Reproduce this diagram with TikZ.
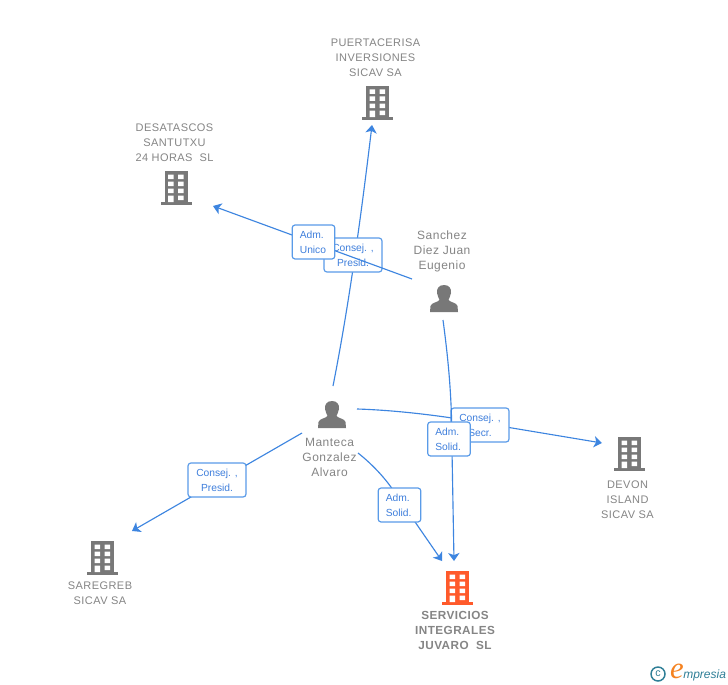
\documentclass[tikz,border=0pt]{standalone}
\usepackage{fontspec}
\setmainfont{Liberation Sans}[LetterSpace=4]
\newfontfamily\plainf{Liberation Sans}
\newfontfamily\logoserif{Liberation Serif}
\usetikzlibrary{arrows.meta}
\definecolor{linkblue}{HTML}{3D85E0}
\definecolor{boxblue}{HTML}{5A9BE8}
\definecolor{labelblue}{HTML}{3F7FDC}
\definecolor{txtgrey}{HTML}{858585}
\definecolor{icongrey}{HTML}{787878}
\definecolor{hotorange}{HTML}{FF5A2B}
\definecolor{logoteal}{HTML}{2F7F97}
\definecolor{logoorange}{HTML}{F58220}
\tikzset{
  x=0.75pt,y=-0.75pt,
  name text/.style={text=txtgrey,font=\fontsize{8.25pt}{11.25pt}\selectfont,align=center,inner sep=0pt},
  person text/.style={name text,font=\fontsize{9pt}{11.25pt}\selectfont},
  hot text/.style={name text,font=\bfseries\fontsize{8.8pt}{11.25pt}\selectfont},
  role/.style={draw=boxblue,line width=0.9pt,rounded corners=2.2pt,fill=white,text=labelblue,
     font=\plainf\fontsize{7.7pt}{11.25pt}\selectfont,align=center,inner sep=0pt,
     minimum width=43.5pt,minimum height=25.5pt},
  rolesmall/.style={role,align=left,minimum width=32pt,text width=20.5pt},
  link/.style={draw=linkblue,line width=0.85pt},
  linkarrow/.style={link,-{Stealth[length=6pt,width=8.5pt,inset=1.6pt]}},
}
% building icon: #1 = centre x, #2 = top y, #3 = colour
\newcommand{\buildingicon}[3]{%
  \begin{scope}[shift={(#1,#2)}]
    \fill[#3] (-11.5,0) rectangle (11.5,31);
    \fill[#3] (-15.5,31) rectangle (15.5,34);
    \fill[white] (-8,3.5) rectangle (-2.5,8) (2,3.5) rectangle (7.5,8);
    \fill[white] (-8,10.5) rectangle (-2.5,15) (2,10.5) rectangle (7.5,15);
    \fill[white] (-8,17.5) rectangle (-2.5,22) (2,17.5) rectangle (7.5,22);
    \fill[white] (-8,24.5) rectangle (-2.5,31) (2,24.5) rectangle (7.5,29);
  \end{scope}}
% person icon: #1 = centre x, #2 = top y
\newcommand{\personicon}[2]{%
  \begin{scope}[shift={(#1,#2)}]
    \fill[icongrey] (0,0) .. controls (-5.5,0) and (-7.5,4) .. (-7,8)
      .. controls (-6.7,11) and (-5,13) .. (-4.5,15)
      .. controls (-6.5,17.5) and (-12.5,17.5) .. (-13.5,21)
      -- (-14,27) -- (14,27) -- (13.5,21)
      .. controls (12.5,17.5) and (6.5,17.5) .. (4.5,15)
      .. controls (5,13) and (6.7,11) .. (7,8)
      .. controls (7.5,4) and (5.5,0) .. (0,0) -- cycle;
  \end{scope}}
\begin{document}
\begin{tikzpicture}
\useasboundingbox (0,0) rectangle (728,685);
\fill[white] (0,0) rectangle (728,685);

% free connector ends
\coordinate (mantecaN) at (333,386);
\coordinate (mantecaE) at (357,409);
\coordinate (mantecaSE) at (358,453);
\coordinate (mantecaW) at (302,433);
\coordinate (sanchezW) at (412,279);
\coordinate (sanchezS) at (443,320);
\coordinate (puertaIn) at (372,125);
\coordinate (desatIn) at (213,206);
\coordinate (saregIn) at (132,531);
\coordinate (devonIn) at (602,443);
\coordinate (servA) at (442,561);
\coordinate (servB) at (454,561);

% icons
\buildingicon{377.5}{86}{icongrey}
\buildingicon{176}{171}{icongrey}
\buildingicon{629.5}{437}{icongrey}
\buildingicon{102.5}{541}{icongrey}
\buildingicon{457.5}{571}{hotorange}
\personicon{444}{285}
\personicon{332}{401}

% names
\node[name text] (puerta) at (375.5,57.5) {PUERTACERISA\\INVERSIONES\\SICAV SA};
\node[name text] (desat) at (174.5,142.5) {DESATASCOS\\SANTUTXU\\24 HORAS\ \ SL};
\node[person text] (sanchez) at (442,251.5) {Sanchez\\Diez Juan\\Eugenio};
\node[person text] (manteca) at (329.5,457) {Manteca\\Gonzalez\\Alvaro};
\node[name text] (devon) at (627.5,499.5) {DEVON\\ISLAND\\SICAV SA};
\node[name text] (sareg) at (100,593.5) {SAREGREB\\SICAV SA};
\node[hot text] (serv) at (455,630.5) {SERVICIOS\\INTEGRALES\\JUVARO\ \ SL};

% connectors running under the label boxes
\draw[linkarrow] (mantecaN) .. controls (348,310) and (360,225) .. (puertaIn);
\node[role] (lbPuerta) at (353,255) {Consej. ,\\Presid.};
\draw[linkarrow] (sanchezW) -- (desatIn);
\node[rolesmall] (lbDesat) at (313.5,242) {Adm.\\Unico};

\draw[linkarrow] (mantecaW) -- (saregIn);
\node[role] (lbSareg) at (217,480) {Consej. ,\\Presid.};

\draw[linkarrow] (mantecaE) .. controls (390,410) and (425,414) .. (452,418) -- (devonIn);
\node[role] (lbDevon) at (480,425) {Consej. ,\\Secr.};
\draw[linkarrow] (sanchezS) .. controls (449,365) and (452,400) .. (452,450) -- (servB);
\node[rolesmall] (lbServB) at (449,439) {Adm.\\Solid.};

\draw[linkarrow] (mantecaSE) .. controls (372,464) and (385,478) .. (393,490) -- (servA);
\node[rolesmall] (lbServA) at (399.5,505) {Adm.\\Solid.};

% logo
\node[circle,draw=logoteal,line width=1.1pt,inner sep=0pt,minimum size=10.5pt,text=logoteal,font=\plainf\fontsize{8pt}{8pt}\selectfont] (logoc) at (658,674) {c};
\node[inner sep=0pt,text=logoorange,font=\logoserif\itshape\fontsize{23pt}{23pt}\selectfont] (logoe) at (677,671) {e};
\node[inner sep=0pt,anchor=base west,text=logoteal,font=\plainf\itshape\fontsize{9pt}{9pt}\selectfont] (logot) at (683,678) {mpresia};
\end{tikzpicture}
\end{document}
